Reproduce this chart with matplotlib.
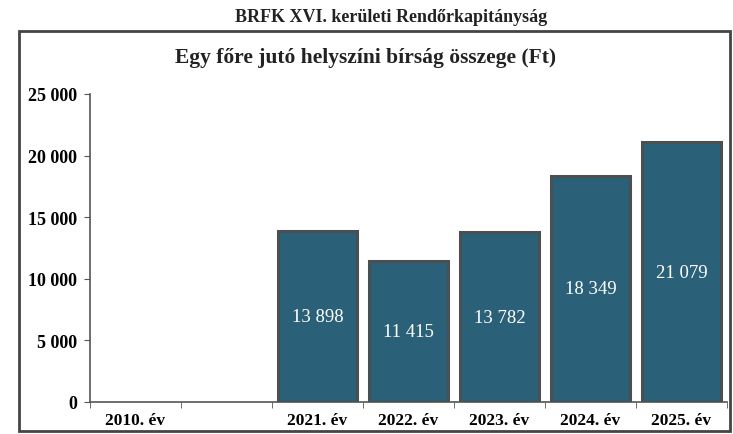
import numpy as np
import matplotlib.pyplot as plt
from matplotlib.patches import Rectangle

# data
years = ['2010. év', '', '2021. év', '2022. év', '2023. év', '2024. év', '2025. év']
values = [0, 0, 13898, 11415, 13782, 18349, 21079]
yticks = [0, 5000, 10000, 15000, 20000, 25000]

def fmt(v):
    return f'{v:,}'.replace(',', ' ')

plt.rcParams['font.family'] = ['Liberation Serif', 'DejaVu Serif']

fig = plt.figure(figsize=(7.33, 4.35), dpi=100)
ax = fig.add_axes([90 / 733, 1 - 403 / 435, 637 / 733, 308 / 435])

x = np.arange(len(years))
vals = np.array(values)
shown = vals > 0
bars = ax.bar(x[shown], vals[shown], width=0.86, color='#2a6178',
              edgecolor='#4a4f52', linewidth=2.2, zorder=3)
for b, v in zip(bars, vals[shown]):
    ax.text(b.get_x() + b.get_width() / 2, v / 2, fmt(int(v)), ha='center', va='center',
            color='white', fontsize=13.5)

ax.set_xlim(-0.5, len(years) - 0.5)
ax.set_ylim(0, 25000)
ax.set_yticks(yticks)
ax.set_yticklabels([fmt(t) for t in yticks], fontweight='bold', fontsize=13)
ax.set_xticks(x)
ax.set_xticklabels(years, fontweight='bold', fontsize=12.5)
ax.set_xticks(np.arange(-0.5, len(years)), minor=True)
ax.tick_params(axis='x', which='major', length=0, pad=7)
ax.tick_params(axis='x', which='minor', length=4, color='#555555', direction='out')
ax.tick_params(axis='y', length=4, color='#555555', pad=5)
for s in ['top', 'right']:
    ax.spines[s].set_visible(False)
for s in ['left', 'bottom']:
    ax.spines[s].set_color('#555555')
    ax.spines[s].set_linewidth(1.2)

# outer frame of the chart
fig.patches.append(Rectangle((19 / 733, 1 - 432 / 435), 711 / 733, 400 / 435,
                             transform=fig.transFigure, fill=False,
                             edgecolor='#444444', linewidth=2))

fig.text(391 / 733, 1 - 17 / 435, 'BRFK XVI. kerületi Rendőrkapitányság', ha='center', va='center',
         fontsize=13, fontweight='bold', color='#222222')
fig.text(366 / 733, 1 - 58 / 435, 'Egy főre jutó helyszíni bírság összege (Ft)', ha='center',
         va='center', fontsize=15.5, fontweight='bold', color='#222222')

fig.savefig('out.png', dpi=100)
